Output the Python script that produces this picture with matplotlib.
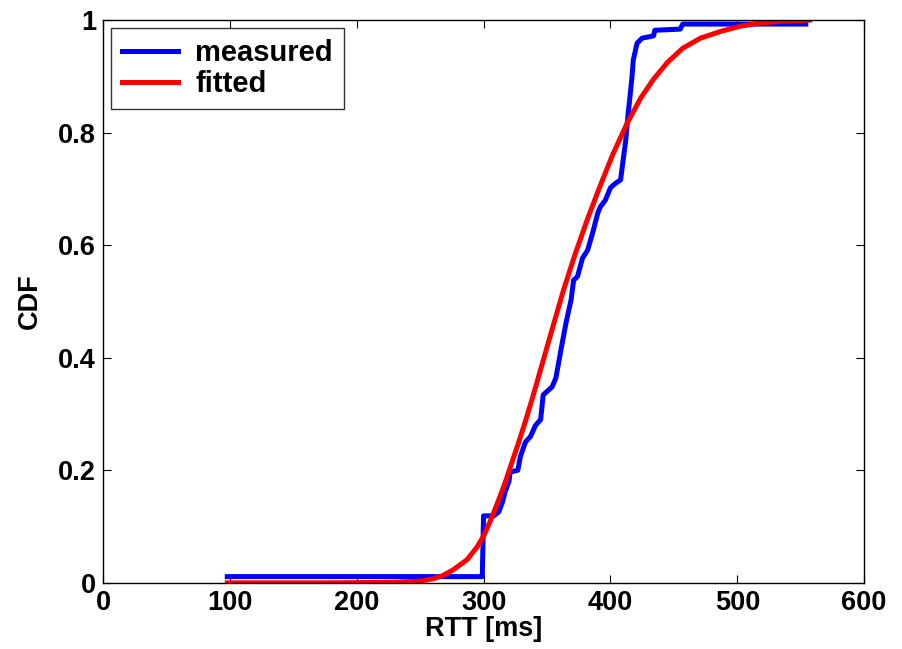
import numpy as np
import matplotlib
matplotlib.use('Agg')
import matplotlib.pyplot as plt

# measured RTT CDF, ms / cdf
meas_rtt = [98, 299, 300, 308, 312, 315, 317, 320, 321, 327, 329, 333, 337, 341,
            345, 347, 354, 357, 361, 365, 369, 371, 374, 378, 382, 386, 390, 392,
            396, 400, 404, 408, 410, 412, 414, 415, 417, 418, 421, 425, 434, 435,
            455, 457, 554]
meas_cdf = [0.011, 0.011, 0.119, 0.119, 0.126, 0.144, 0.162, 0.180, 0.197, 0.200,
            0.224, 0.250, 0.260, 0.280, 0.290, 0.334, 0.348, 0.364, 0.414, 0.462,
            0.503, 0.538, 0.544, 0.577, 0.591, 0.622, 0.657, 0.668, 0.680, 0.702,
            0.710, 0.716, 0.751, 0.785, 0.835, 0.855, 0.899, 0.929, 0.959, 0.968,
            0.972, 0.982, 0.984, 0.993, 0.993]

# fitted CDF
fit_rtt = [98, 180, 230, 250, 260, 268, 276, 287, 295, 300, 305, 311, 317, 321,
           327, 333, 339, 347, 355, 363, 372, 382, 392, 402, 413, 424, 434, 445,
           457, 471, 487, 502, 518, 534, 557]
fit_cdf = [0.0, 0.0, 0.001, 0.003, 0.007, 0.013, 0.023, 0.041, 0.064, 0.083,
           0.108, 0.142, 0.178, 0.205, 0.245, 0.287, 0.332, 0.395, 0.458, 0.520,
           0.583, 0.647, 0.706, 0.762, 0.816, 0.862, 0.895, 0.925, 0.950, 0.968,
           0.980, 0.989, 0.995, 0.998, 1.0]

plt.rcParams['font.family'] = ['Liberation Sans', 'DejaVu Sans']
plt.rcParams['font.weight'] = 'bold'

fig = plt.figure(figsize=(9.03, 6.49), dpi=100)
ax = fig.add_axes([0.114, 0.102, 0.843, 0.867])

ax.plot(meas_rtt, meas_cdf, color='#0000ff', lw=3.6, label='measured')
ax.plot(fit_rtt, fit_cdf, color='#ff0000', lw=3.6, label='fitted')

ax.set_xlim(0, 600)
ax.set_ylim(0, 1)
ax.set_xticks(np.arange(0, 601, 100))
ax.set_yticks([0, 0.2, 0.4, 0.6, 0.8, 1])
ax.set_yticklabels(['0', '0.2', '0.4', '0.6', '0.8', '1'])
ax.tick_params(direction='in', length=6, width=0.8, top=True, right=True,
               labelsize=19.5, pad=5)
for s in ax.spines.values():
    s.set_linewidth(1.0)

ax.set_xlabel('RTT [ms]', fontsize=19.5, fontweight='bold', labelpad=0)
ax.set_ylabel('CDF', fontsize=19.5, fontweight='bold', labelpad=11)

leg = ax.legend(loc='upper left', fontsize=21, frameon=True, fancybox=False,
                edgecolor='black', handlelength=1.9, handletextpad=0.6,
                borderpad=0.38, labelspacing=0.1, borderaxespad=0.28)
leg.get_frame().set_linewidth(1.0)
for t in leg.get_texts():
    t.set_fontweight('bold')

fig.savefig('out.png', dpi=100, facecolor='white')
